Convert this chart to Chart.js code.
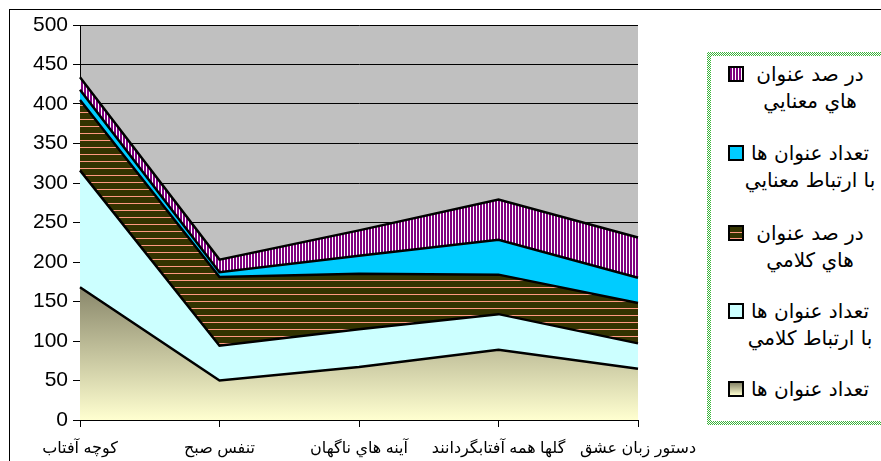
<!DOCTYPE html>
<html>
<head>
<meta charset="utf-8">
<script src="https://cdn.jsdelivr.net/npm/chart.js@4"></script>
<style>
  html, body { margin: 0; padding: 0; background: #fff; overflow: hidden; }
  #wrap { position: relative; width: 881px; height: 461px; overflow: hidden; }
  #frame { position: absolute; left: 9px; top: 9px; width: 900px; height: 500px; border: 1px solid #000; }
  #c { position: absolute; left: 0; top: 0; }
  #legend { position: absolute; left: 707px; top: 52px; width: 200px; height: 373px;
    background: repeating-conic-gradient(#3cb43c 0 25%, #ffffff 0 50%) 0 0 / 2px 2px; }
  #legend .inner { position: absolute; left: 4px; top: 4px; right: 0; bottom: 4px; background: #fff; }
  .key { position: absolute; left: 17px; width: 12px; height: 12px; border: 2px solid #000; }
  .txt { position: absolute; left: 29px; width: 140px; text-align: center; direction: rtl;
    font-family: 'DejaVu Sans', sans-serif; font-size: 20px; line-height: 27px; color: #000; white-space: nowrap; }
</style>
</head>
<body>
<div id="wrap">
  <div id="frame"></div>
  <canvas id="c" width="881" height="461"></canvas>
  <div id="legend"><div class="inner" id="legendInner"></div></div>
</div>
<script>
// categorias (titulos de libros)
var categorias = ['کوچه آفتاب', 'تنفس صبح', 'آينه هاي ناگهان', 'گلها همه آفتابگردانند', 'دستور زبان عشق'];

// valores de cada serie (apilados)
var tedadOnvanha       = [168, 50, 67, 89, 65];
var tedadErtebatKalami = [148, 44, 48, 45, 32];
var darsadKalami       = [89, 87, 70, 50, 51];
var tedadErtebatMaanai = [13, 6, 23, 44, 32];
var darsadMaanai       = [16, 16, 32, 51, 51];

// nombres de series (lineas de la leyenda)
var nombres = [
  ['تعداد عنوان ها'],
  ['تعداد عنوان ها', 'با ارتباط كلامي'],
  ['در صد عنوان', 'هاي كلامي'],
  ['تعداد عنوان ها', 'با ارتباط معنايي'],
  ['در صد عنوان', 'هاي معنايي']
];

var yTicks = [0, 50, 100, 150, 200, 250, 300, 350, 400, 450, 500];

// patrones
function rayasHorizontales() {
  var p = document.createElement('canvas');
  p.width = 7; p.height = 7;
  var g = p.getContext('2d');
  g.fillStyle = '#333300';
  g.fillRect(0, 0, 7, 7);
  g.fillStyle = '#ff9980';
  g.fillRect(0, 0, 7, 1);
  return p;
}
function rayasVerticales() {
  var p = document.createElement('canvas');
  p.width = 3; p.height = 3;
  var g = p.getContext('2d');
  g.fillStyle = '#ffffff';
  g.fillRect(0, 0, 3, 3);
  g.fillStyle = '#800080';
  g.fillRect(0, 0, 2, 3);
  return p;
}

var ctx = document.getElementById('c').getContext('2d');
var patHor = ctx.createPattern(rayasHorizontales(), 'repeat');
var patVer = ctx.createPattern(rayasVerticales(), 'repeat');

function degradado(context) {
  var chart = context.chart;
  if (!chart.chartArea) return '#eeeebb';
  var y = chart.scales.y;
  var gr = chart.ctx.createLinearGradient(0, y.getPixelForValue(170), 0, y.getPixelForValue(0));
  gr.addColorStop(0, '#878569');
  gr.addColorStop(1, '#ffffd0');
  return gr;
}

var fondoGris = {
  id: 'fondoGris',
  beforeDraw: function(chart) {
    var a = chart.chartArea;
    chart.ctx.save();
    chart.ctx.fillStyle = '#c0c0c0';
    chart.ctx.fillRect(a.left, a.top, a.right - a.left, a.bottom - a.top);
    chart.ctx.restore();
  }
};

var series = [tedadOnvanha, tedadErtebatKalami, darsadKalami, tedadErtebatMaanai, darsadMaanai];
var fills = [degradado, '#ccffff', patHor, '#00ccff', patVer];

var datasets = [];
for (var i = 0; i < series.length; i++) {
  datasets.push({
    label: nombres[i].join(' '),
    data: series[i],
    backgroundColor: fills[i],
    borderColor: '#000000',
    borderWidth: 2.5,
    pointRadius: 0,
    tension: 0,
    fill: i == 0 ? 'origin' : '-1'
  });
}

new Chart(ctx, {
  type: 'line',
  data: { labels: categorias, datasets: datasets },
  plugins: [fondoGris],
  options: {
    responsive: false,
    animation: false,
    layout: { padding: { left: 0, top: 25, right: 243, bottom: 0 } },
    plugins: { legend: { display: false }, tooltip: { enabled: false } },
    scales: {
      x: {
        offset: false,
        grid: { drawOnChartArea: false, color: '#000', tickLength: 7 },
        border: { color: '#000', width: 1 },
        ticks: { color: '#000', padding: 12, maxRotation: 0, autoSkip: false,
          font: { family: "'Liberation Sans', 'DejaVu Sans'", size: 16 } },
        afterFit: function(s) { s.height = 41; }
      },
      y: {
        stacked: true,
        min: 0, max: 500,
        afterBuildTicks: function(s) { s.ticks = yTicks.map(function(v) { return { value: v }; }); },
        grid: { color: '#000', tickLength: 7 },
        border: { color: '#000', width: 1 },
        ticks: { color: '#000', padding: 5,
          font: { family: "'Liberation Sans', Arial", size: 21 } },
        afterFit: function(s) { s.width = 80; }
      }
    }
  }
});

// leyenda en html (orden inverso como en Excel)
var tops = [66, 145, 225, 303, 381];
var claves = ['linear-gradient(#878569, #ffffd0)', '#ccffff', 'repeating-linear-gradient(#333300 0 5px, #ff9980 5px 6px)', '#00ccff', 'repeating-linear-gradient(90deg, #800080 0 2px, #fff 2px 3px)'];
var inner = document.getElementById('legendInner');
for (var k = 0; k < 5; k++) {
  var idx = 4 - k;
  var key = document.createElement('div');
  key.className = 'key';
  key.style.top = (tops[k] - 56) + 'px';
  key.style.background = claves[idx];
  inner.appendChild(key);
  var t = document.createElement('div');
  t.className = 'txt';
  t.style.top = (tops[k] - 56 - 5) + 'px';
  t.innerHTML = nombres[idx].join('<br>');
  inner.appendChild(t);
}
</script>
</body>
</html>
